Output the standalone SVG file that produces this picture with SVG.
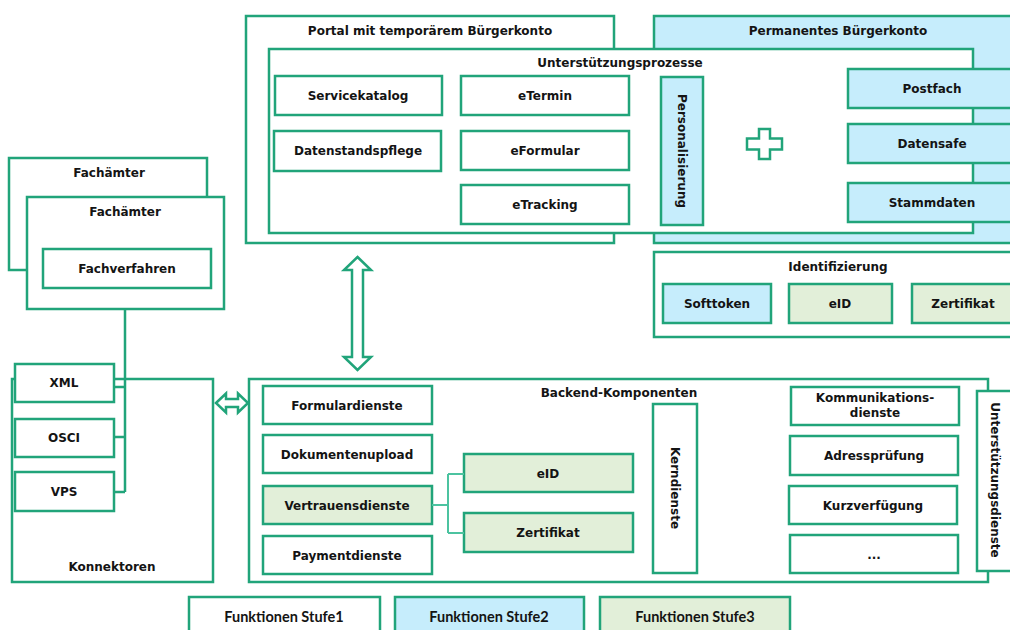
<svg xmlns="http://www.w3.org/2000/svg" width="1010" height="630" viewBox="0 0 1010 630">
<style>
rect{stroke:#21a47a;stroke-width:2.5;fill:#fff}
.b{fill:#c6edfc}
.g{fill:#e2efd9}
text{font-family:"DejaVu Sans",Verdana,sans-serif;font-weight:bold;font-size:12px;fill:#141414;text-anchor:middle}
.lg{font-family:Lato,"Open Sans",sans-serif;font-size:14.5px}
.ar{fill:#fff;stroke:#21a47a;stroke-width:2.5;stroke-linejoin:miter}
.ln{fill:none;stroke:#21a47a;stroke-width:2.5}
.ln2{fill:none;stroke:#4cc3a0;stroke-width:2}
</style>
<rect width="1010" height="630" style="fill:#fff;stroke:none"/>

<g id="permanentes-buergerkonto">
<rect class="b" x="654" y="16" width="370" height="227"/>
<text x="838" y="35">Permanentes Bürgerkonto</text>
</g>
<g id="portal">
<rect x="246" y="16" width="368" height="227"/>
<text x="430" y="35">Portal mit temporärem Bürgerkonto</text>
</g>
<g id="unterstuetzungsprozesse">
<rect x="269" y="49" width="704" height="184"/>
<text x="620" y="67">Unterstützungsprozesse</text>
</g>
<g id="servicekatalog"><rect x="275" y="76" width="167" height="39"/><text x="358" y="100">Servicekatalog</text></g>
<g id="datenstandspflege"><rect x="274" y="131" width="167" height="40"/><text x="358" y="155">Datenstandspflege</text></g>
<g id="etermin"><rect x="461" y="76" width="168" height="39"/><text x="545" y="100">eTermin</text></g>
<g id="eformular"><rect x="461" y="131" width="168" height="39"/><text x="545" y="155">eFormular</text></g>
<g id="etracking"><rect x="461" y="185" width="168" height="39"/><text x="545" y="209">eTracking</text></g>
<g id="personalisierung"><rect class="b" x="661" y="77" width="42" height="148"/><text transform="translate(678,151) rotate(90)">Personalisierung</text></g>
<g id="plus"><polygon class="ar" points="759,129 770,129 770,138.5 782,138.5 782,149.5 770,149.5 770,159 759,159 759,149.5 747,149.5 747,138.5 759,138.5"/></g>
<g id="postfach"><rect class="b" x="848" y="69" width="170" height="39"/><text x="932" y="93">Postfach</text></g>
<g id="datensafe"><rect class="b" x="848" y="124" width="170" height="39"/><text x="932" y="148">Datensafe</text></g>
<g id="stammdaten"><rect class="b" x="848" y="183" width="170" height="39"/><text x="932" y="207">Stammdaten</text></g>

<g id="identifizierung">
<rect x="654" y="252" width="370" height="85"/>
<text x="838" y="271">Identifizierung</text>
</g>
<g id="softtoken"><rect class="b" x="663" y="284" width="108" height="39"/><text x="717" y="308">Softtoken</text></g>
<g id="eid-ident"><rect class="g" x="789" y="284" width="103" height="39"/><text x="840" y="308">eID</text></g>
<g id="zertifikat-ident"><rect class="g" x="912" y="284" width="104" height="39"/><text x="963" y="308">Zertifikat</text></g>

<g id="fachaemter-back"><rect x="9" y="158" width="198" height="112"/><text x="109" y="177">Fachämter</text></g>
<g id="fachaemter"><rect x="27" y="197" width="197" height="112"/><text x="125" y="216">Fachämter</text></g>
<g id="fachverfahren"><rect x="43" y="249" width="168" height="39"/><text x="127" y="273">Fachverfahren</text></g>

<g id="konnektoren"><rect x="12" y="379" width="201" height="203"/><text x="112" y="571">Konnektoren</text></g>
<g id="xml"><rect x="15" y="364" width="99" height="38"/><text x="64" y="387">XML</text></g>
<g id="osci"><rect x="15" y="419" width="99" height="38"/><text x="64" y="442">OSCI</text></g>
<g id="vps"><rect x="15" y="472" width="99" height="39"/><text x="64" y="496">VPS</text></g>

<g id="backend"><rect x="249" y="379" width="739" height="203"/><text x="619" y="397">Backend-Komponenten</text></g>
<g id="formulardienste"><rect x="263" y="386" width="169" height="38"/><text x="347" y="410">Formulardienste</text></g>
<g id="dokumentenupload"><rect x="263" y="435" width="169" height="38"/><text x="347" y="459">Dokumentenupload</text></g>
<g id="vertrauensdienste"><rect class="g" x="263" y="486" width="169" height="38"/><text x="347" y="510">Vertrauensdienste</text></g>
<g id="paymentdienste"><rect x="263" y="536" width="169" height="38"/><text x="347" y="560">Paymentdienste</text></g>
<g id="eid-backend"><rect class="g" x="464" y="454" width="169" height="38"/><text x="548" y="478">eID</text></g>
<g id="zertifikat-backend"><rect class="g" x="464" y="513" width="169" height="39"/><text x="548" y="537">Zertifikat</text></g>
<g id="kerndienste"><rect x="653" y="404" width="44" height="169"/><text transform="translate(671,488) rotate(90)">Kerndienste</text></g>
<g id="kommunikationsdienste"><rect x="791" y="387" width="168" height="38"/><text x="875" y="402">Kommunikations-</text><text x="875" y="417">dienste</text></g>
<g id="adresspruefung"><rect x="790" y="436" width="168" height="39"/><text x="874" y="460">Adressprüfung</text></g>
<g id="kurzverfuegung"><rect x="789" y="486" width="168" height="38"/><text x="873" y="510">Kurzverfügung</text></g>
<g id="weitere"><rect x="790" y="535" width="168" height="38"/><text x="874" y="559">...</text></g>
<g id="unterstuetzungsdienste"><rect x="977" y="391" width="40" height="180"/><text transform="translate(991,480) rotate(90)">Unterstützungsdienste</text></g>

<g id="legende">
<g id="stufe1"><rect x="189" y="597" width="191" height="45"/><text class="lg" x="284" y="622">Funktionen Stufe1</text></g>
<g id="stufe2"><rect class="b" x="395" y="597" width="189" height="45"/><text class="lg" x="489" y="622">Funktionen Stufe2</text></g>
<g id="stufe3"><rect class="g" x="600" y="597" width="190" height="45"/><text class="lg" x="695" y="622">Funktionen Stufe3</text></g>
</g>

<g id="connectors">
<path class="ln" d="M125,309 V492 M114,387 H125 M114,437 H125 M114,492 H125"/>
<path class="ln2" d="M432,505 H448 M448,474 V533 M448,474 H464 M448,533 H464"/>
<polygon class="ar" points="357.5,257 371,270 363,270 363,357 371,357 357.5,370 344,357 352,357 352,270 344,270"/>
<polygon class="ar" points="216,403 226,393.5 226,399 238,399 238,393.5 248,403 238,412.5 238,407 226,407 226,412.5"/>
</g>
</svg>
